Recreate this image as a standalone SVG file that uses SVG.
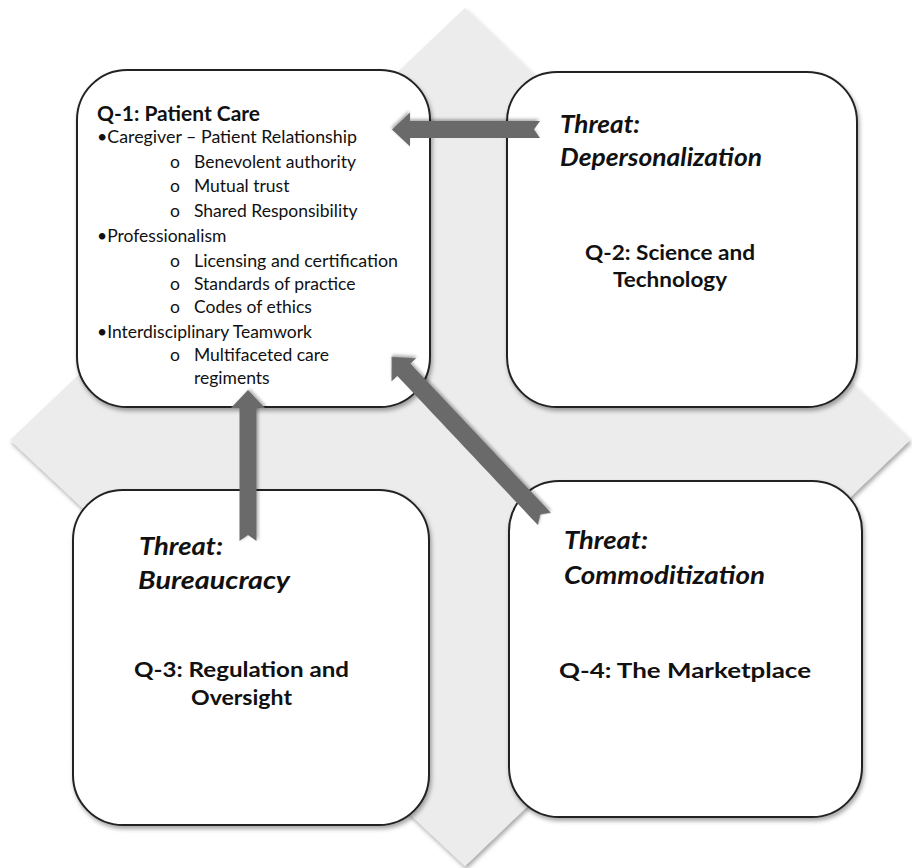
<svg xmlns="http://www.w3.org/2000/svg" width="912" height="868" viewBox="0 0 912 868">
<defs>
<filter id="sh" x="-10%" y="-10%" width="120%" height="120%">
<feDropShadow dx="1.5" dy="3" stdDeviation="2" flood-color="#000" flood-opacity="0.35"/>
</filter>
<filter id="ash" x="-20%" y="-20%" width="140%" height="140%">
<feDropShadow dx="1" dy="2" stdDeviation="1.5" flood-color="#000" flood-opacity="0.3"/>
</filter>
<style>
.box{fill:#fff;stroke:#222;stroke-width:2;filter:url(#sh)}
.arrow{fill:#6b6b6b;filter:url(#ash)}
.t{font-family:Lato,"Open Sans","Liberation Sans",sans-serif;fill:#111}
.title{font-size:21px;font-weight:bold}
.threat{font-size:24px;font-weight:bold;font-style:italic}
.item{font-size:17.5px}
.mid{text-anchor:middle}
</style>
</defs>
<rect width="912" height="868" fill="#fff"/>
<polygon id="diamond" points="465,8 910,440 465,866 10,440" fill="#ececec" filter="url(#sh)"/>

<g id="q1">
<rect class="box" x="77" y="70" width="353" height="337" rx="50" ry="50"/>
<text class="t title" x="97" y="121" textLength="163" lengthAdjust="spacingAndGlyphs">Q-1: Patient Care</text>
<text class="t item" x="97" y="143" textLength="260" lengthAdjust="spacingAndGlyphs">•Caregiver – Patient Relationship</text>
<text class="t item" x="170" y="168">o</text><text class="t item" x="194" y="168">Benevolent authority</text>
<text class="t item" x="170" y="192">o</text><text class="t item" x="194" y="192">Mutual trust</text>
<text class="t item" x="170" y="217">o</text><text class="t item" x="194" y="217">Shared Responsibility</text>
<text class="t item" x="97" y="242">•Professionalism</text>
<text class="t item" x="170" y="267">o</text><text class="t item" x="194" y="267" textLength="204" lengthAdjust="spacingAndGlyphs">Licensing and certification</text>
<text class="t item" x="170" y="290">o</text><text class="t item" x="194" y="290">Standards of practice</text>
<text class="t item" x="170" y="313">o</text><text class="t item" x="194" y="313">Codes of ethics</text>
<text class="t item" x="97" y="338">•Interdisciplinary Teamwork</text>
<text class="t item" x="170" y="361">o</text><text class="t item" x="194" y="361">Multifaceted care</text>
<text class="t item" x="194" y="384">regiments</text>
</g>

<g id="q2">
<rect class="box" x="507" y="72" width="350" height="335" rx="50" ry="50"/>
<text class="t threat" x="560" y="133" textLength="80" lengthAdjust="spacingAndGlyphs">Threat:</text>
<text class="t threat" x="560" y="166" textLength="202" lengthAdjust="spacingAndGlyphs">Depersonalization</text>
<text class="t title" x="585" y="260" textLength="170" lengthAdjust="spacingAndGlyphs">Q-2: Science and</text>
<text class="t title" x="613" y="287" textLength="114" lengthAdjust="spacingAndGlyphs">Technology</text>
</g>

<g id="q3">
<rect class="box" x="73" y="490" width="356" height="335" rx="50" ry="50"/>
<text class="t threat" x="139" y="555" textLength="84" lengthAdjust="spacingAndGlyphs">Threat:</text>
<text class="t threat" x="138" y="589" textLength="152" lengthAdjust="spacingAndGlyphs">Bureaucracy</text>
<text class="t title" x="134" y="677" textLength="215" lengthAdjust="spacingAndGlyphs">Q-3: Regulation and</text>
<text class="t title" x="191" y="705" textLength="101" lengthAdjust="spacingAndGlyphs">Oversight</text>
</g>

<g id="q4">
<rect class="box" x="509" y="481" width="353" height="336" rx="50" ry="50"/>
<text class="t threat" x="564" y="549" textLength="84" lengthAdjust="spacingAndGlyphs">Threat:</text>
<text class="t threat" x="564" y="584" textLength="201" lengthAdjust="spacingAndGlyphs">Commoditization</text>
<text class="t title" x="559" y="678" textLength="252" lengthAdjust="spacingAndGlyphs">Q-4: The Marketplace</text>
</g>

<g id="connectors">
<polygon class="arrow" points="0,-8.5 130,-8.5 130,-17 148,0 130,17 130,8.5 0,8.5 6,0" transform="translate(540,129.5) rotate(180)"/>
<polygon class="arrow" points="0,-8.5 133,-8.5 133,-17 151,0 133,17 133,8.5 0,8.5 6,0" transform="translate(248,541) rotate(-90)"/>
<polygon class="arrow" points="0,-9 205,-9 205,-17 223,0 205,17 205,9 0,9 6,0" transform="translate(544.5,519) rotate(226.7)"/>
</g>
</svg>
